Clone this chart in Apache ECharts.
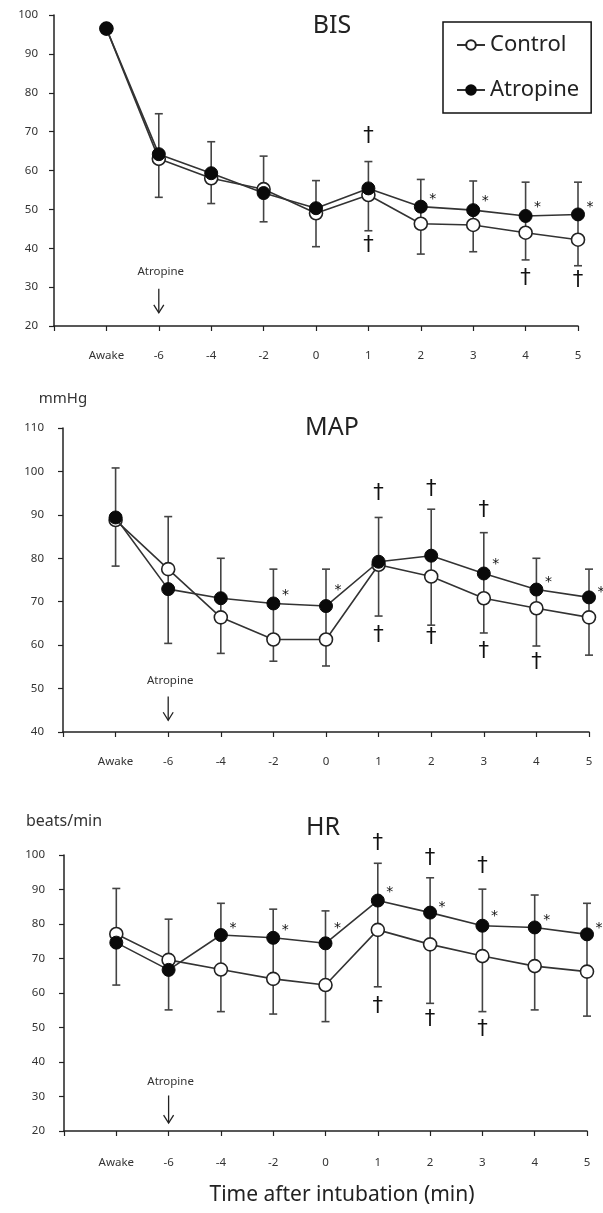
<!DOCTYPE html>
<html>
<head>
<meta charset="utf-8">
<script src="https://cdn.jsdelivr.net/npm/echarts@6/dist/echarts.min.js"></script>
<style>
html,body{margin:0;padding:0;background:#fff;}
#chart{width:603px;height:1213px;}
</style>
</head>
<body>
<div id="chart"></div>
<script>
// ---- data ----
const categories = ['Awake', '-6', '-4', '-2', '0', '1', '2', '3', '4', '5'];

const bisControl  = [96.5, 63.0, 58.0, 55.2, 49.0, 53.7, 46.3, 46.0, 44.0, 42.2];
const bisAtropine = [96.5, 64.2, 59.3, 54.2, 50.3, 55.4, 50.7, 49.8, 48.3, 48.7];
const bisBarHigh  = [null, 74.6, 67.4, 63.7, 57.4, 62.3, 57.7, 57.3, 57.0, 57.0];
const bisBarLow   = [null, 53.1, 51.5, 46.8, 40.4, 44.5, 38.5, 39.1, 37.0, 35.5];
const bisDaggers  = [['1', 68.7], ['1', 40.8], ['4', 32.2], ['5', 31.8]];
const bisStars    = [['2', 53.7], ['3', 53.1], ['4', 51.5], ['5', 51.5]];

const mapControl  = [88.8, 77.5, 66.4, 61.3, 61.3, 78.5, 75.8, 70.8, 68.5, 66.4];
const mapAtropine = [89.4, 72.9, 70.8, 69.6, 69.0, 79.2, 80.6, 76.5, 72.8, 71.0];
const mapBarHigh  = [100.8, 89.6, 80.0, 77.5, 77.5, 89.4, 91.3, 85.9, 80.0, 77.5];
const mapBarLow   = [78.2, 60.4, 58.1, 56.3, 55.2, 66.7, 64.6, 62.8, 59.8, 57.7];
const mapDaggers  = [['1', 95.0], ['1', 62.3], ['2', 95.8], ['2', 61.8], ['3', 90.9], ['3', 58.5], ['4', 56.0]];
const mapStars    = [['-2', 72.3], ['0', 73.6], ['3', 79.6], ['4', 75.4], ['5', 73.1]];

const hrControl   = [77.1, 69.6, 66.8, 64.1, 62.3, 78.3, 74.1, 70.7, 67.8, 66.2];
const hrAtropine  = [74.6, 66.7, 76.8, 76.0, 74.4, 86.8, 83.3, 79.5, 79.0, 77.0];
const hrBarHigh   = [90.3, 81.4, 86.0, 84.3, 83.8, 97.6, 93.4, 90.1, 88.4, 86.0];
const hrBarLow    = [62.3, 55.1, 54.6, 53.9, 51.7, 61.8, 57.0, 54.6, 55.1, 53.3];
const hrDaggers   = [['1', 103.4], ['1', 56.0], ['2', 99.0], ['2', 52.2], ['3', 96.6], ['3', 49.3]];
const hrStars     = [['-4', 80.0], ['-2', 79.4], ['0', 80.0], ['1', 90.4], ['2', 86.1], ['3', 83.3], ['4', 82.3], ['5', 80.0]];

// Atropine marker: [category, label value, arrow top value, arrow tip value]
const bisAtropineMark = ['-6', 33.9, 29.6, 23.4];
const mapAtropineMark = ['-6', 51.9, 48.2, 42.7];
const hrAtropineMark  = ['-6', 34.2, 30.3, 22.3];

const titles = ['BIS', 'MAP', 'HR'];
const units = ['', 'mmHg', 'beats/min'];
const yTicks = [[20, 100, 10], [40, 110, 10], [20, 100, 10]];

// ---- chart ----
const FONT = '"Noto Sans", "Open Sans", sans-serif';
const AX = '#222';

const grids = [
  { left: 54, right: 25, top: 15, height: 311 },
  { left: 63, right: 14, top: 428, height: 304 },
  { left: 64, right: 16, top: 855, height: 276 }
];

const xAxes = grids.map((g, i) => ({
  type: 'value', gridIndex: i, min: -1, max: categories.length - 1, interval: 1,
  axisLine: { onZero: false, lineStyle: { color: AX, width: 1.5 } },
  axisTick: { lineStyle: { color: AX, width: 1.2 }, length: 5 },
  splitLine: { show: false },
  axisLabel: {
    margin: i === 2 ? 26 : 24, fontSize: 11.5, color: '#333', fontFamily: FONT,
    formatter: v => (v >= 0 && v < categories.length) ? categories[v] : ''
  }
}));

const yAxes = grids.map((g, i) => ({
  type: 'value', gridIndex: i, min: yTicks[i][0], max: yTicks[i][1], interval: yTicks[i][2],
  name: units[i], nameLocation: 'end', nameGap: i === 1 ? 22 : 26,
  nameTextStyle: { fontSize: i === 1 ? 15 : 16, color: '#333', fontFamily: FONT, align: 'center' },
  axisLine: { show: true, onZero: false, lineStyle: { color: AX, width: 1.5 } },
  axisTick: { show: true, lineStyle: { color: AX, width: 1.2 }, length: 5 },
  splitLine: { show: false },
  axisLabel: { margin: i === 0 ? 16 : 19, fontSize: 11.5, color: '#333', fontFamily: FONT }
}));

function idx(c) { return categories.indexOf(c); }
function pts(arr) { return arr.map((v, i) => [i, v]); }

function errorSeries(gi, hi, lo) {
  const data = [];
  hi.forEach((h, i) => { if (h != null && lo[i] != null) data.push([i, h, lo[i]]); });
  return {
    type: 'custom', xAxisIndex: gi, yAxisIndex: gi, z: 1, silent: true,
    data: data, encode: { x: 0, y: [1, 2] },
    renderItem: function (params, api) {
      const top = api.coord([api.value(0), api.value(1)]);
      const bot = api.coord([api.value(0), api.value(2)]);
      const st = { stroke: '#444', lineWidth: 1.6 };
      return {
        type: 'group', children: [
          { type: 'line', shape: { x1: top[0], y1: top[1], x2: bot[0], y2: bot[1] }, style: st },
          { type: 'line', shape: { x1: top[0] - 4, y1: top[1], x2: top[0] + 4, y2: top[1] }, style: st },
          { type: 'line', shape: { x1: bot[0] - 4, y1: bot[1], x2: bot[0] + 4, y2: bot[1] }, style: st }
        ]
      };
    }
  };
}

function textSeries(gi, list, ch, size, dx, dy) {
  return {
    type: 'custom', xAxisIndex: gi, yAxisIndex: gi, z: 5, silent: true, clip: false,
    data: list.map(d => [idx(d[0]), d[1]]),
    renderItem: function (params, api) {
      const p = api.coord([api.value(0), api.value(1)]);
      return {
        type: 'text', x: p[0] + dx, y: p[1] + dy,
        style: { text: ch, fontSize: size, fontFamily: '"DejaVu Sans", sans-serif', fill: '#111',
                 textAlign: 'center', textVerticalAlign: 'middle', align: 'center', verticalAlign: 'middle' }
      };
    }
  };
}

function arrowSeries(gi, mark) {
  return {
    type: 'custom', xAxisIndex: gi, yAxisIndex: gi, z: 5, silent: true, clip: false,
    data: [[idx(mark[0]), mark[1], mark[2], mark[3]]],
    renderItem: function (params, api) {
      const t = api.coord([api.value(0), api.value(1)]);
      const a = api.coord([api.value(0), api.value(2)]);
      const b = api.coord([api.value(0), api.value(3)]);
      const st = { stroke: '#222', lineWidth: 1.3 };
      return {
        type: 'group', children: [
          { type: 'text', x: t[0] + 2, y: t[1],
            style: { text: 'Atropine', fontSize: 11.5, fontFamily: FONT, fill: '#333',
                     textAlign: 'center', textVerticalAlign: 'middle', align: 'center', verticalAlign: 'middle' } },
          { type: 'line', shape: { x1: a[0], y1: a[1], x2: b[0], y2: b[1] }, style: st },
          { type: 'polyline', shape: { points: [[b[0] - 5, b[1] - 8], [b[0], b[1]], [b[0] + 5, b[1] - 8]] }, style: Object.assign({ fill: null }, st) }
        ]
      };
    }
  };
}

function lineSeries(gi, name, data, filled) {
  return {
    type: 'line', name: name, xAxisIndex: gi, yAxisIndex: gi, data: pts(data),
    z: filled ? 4 : 3,
    symbol: 'circle', symbolSize: 13, showSymbol: true,
    lineStyle: { color: '#333', width: 1.6 },
    itemStyle: filled
      ? { color: '#0a0a0a', borderColor: '#0a0a0a', borderWidth: 1 }
      : { color: '#fff', borderColor: '#222', borderWidth: 1.6 },
    emphasis: { disabled: true },
    animation: false
  };
}

const panels = [
  [bisControl, bisAtropine, bisBarHigh, bisBarLow, bisDaggers, bisStars, bisAtropineMark],
  [mapControl, mapAtropine, mapBarHigh, mapBarLow, mapDaggers, mapStars, mapAtropineMark],
  [hrControl, hrAtropine, hrBarHigh, hrBarLow, hrDaggers, hrStars, hrAtropineMark]
];

const series = [];
panels.forEach((p, gi) => {
  series.push(errorSeries(gi, p[2], p[3]));
  series.push(lineSeries(gi, 'Control', p[0], false));
  series.push(lineSeries(gi, 'Atropine', p[1], true));
  series.push(textSeries(gi, p[4], '\u2020', 21, 0, 0));
  series.push(textSeries(gi, p[5], '*', 14, 12, 4));
  series.push(arrowSeries(gi, p[6]));
});

const titleTops = [8, 410, 810];
const titleLefts = [327, 327, 318];
const titleComps = titles.map((t, i) => ({
  text: t, left: titleLefts[i], top: titleTops[i], textAlign: 'center',
  textStyle: { fontSize: 25, fontWeight: 'normal', color: '#222', fontFamily: FONT }
}));
titleComps.push({
  text: 'Time after intubation (min)', left: 337, top: 1180, textAlign: 'center',
  textStyle: { fontSize: 21, fontWeight: 'normal', color: '#222', fontFamily: FONT }
});

const chart = echarts.init(document.getElementById('chart'), null, { renderer: 'canvas' });
chart.setOption({
  backgroundColor: '#fff',
  animation: false,
  title: titleComps,
  legend: {
    data: ['Control', 'Atropine'], orient: 'vertical', left: 443, top: 22,
    borderColor: '#111', borderWidth: 1.5, padding: [8, 12, 8, 13],
    itemGap: 15, itemWidth: 28, itemHeight: 12,
    textStyle: { fontSize: 22, color: '#222', fontFamily: FONT, lineHeight: 30, padding: [0, 0, 0, 0] },
    selectedMode: false
  },
  grid: grids,
  xAxis: xAxes,
  yAxis: yAxes,
  series: series
});
</script>
</body>
</html>
